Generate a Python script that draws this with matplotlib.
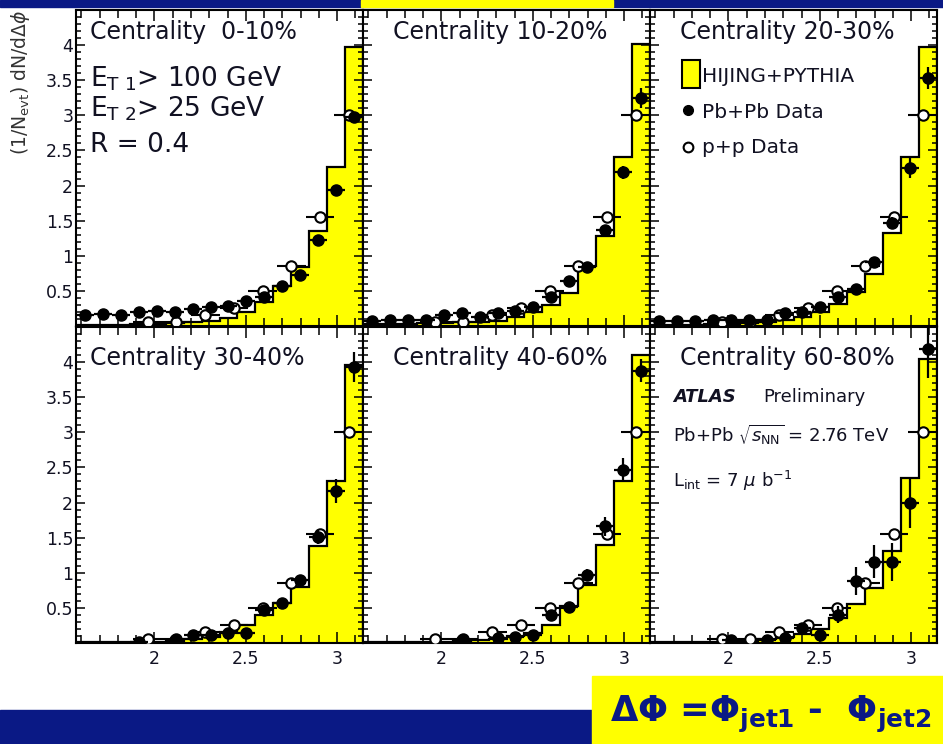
import numpy as np
import matplotlib
matplotlib.use('Agg')
import matplotlib.pyplot as plt
from matplotlib.patches import Rectangle
from matplotlib.ticker import MultipleLocator

plt.rcParams['font.family'] = ['DejaVu Sans']
plt.rcParams['mathtext.fontset'] = 'dejavusans'

NAVY = '#0a1985'
YELLOW = '#ffff00'
TXT = '#111122'
nan = np.nan

# --- dados ---
n_fino = 16      # bins de pi/32 (Pb+Pb e HIJING)
n_pp = 10        # bins de pi/20 (p+p)

centralidades = ['Centrality  0-10%', 'Centrality 10-20%', 'Centrality 20-30%',
                 'Centrality 30-40%', 'Centrality 40-60%', 'Centrality 60-80%']

hijing_0_10 = [0.02, 0.02, 0.02, 0.03, 0.03, 0.04, 0.05, 0.07, 0.12, 0.20, 0.34, 0.57, 0.84, 1.35, 2.26, 3.98]
hijing_10_20 = [0.03, 0.03, 0.03, 0.04, 0.04, 0.05, 0.06, 0.07, 0.13, 0.20, 0.30, 0.47, 0.85, 1.28, 2.40, 4.02]
hijing_20_30 = [0.02, 0.02, 0.02, 0.03, 0.03, 0.04, 0.05, 0.08, 0.13, 0.20, 0.32, 0.49, 0.74, 1.33, 2.41, 3.98]
hijing_30_40 = [0.01, 0.01, 0.01, 0.02, 0.02, 0.03, 0.05, 0.08, 0.15, 0.26, 0.40, 0.57, 0.80, 1.38, 2.30, 3.96]
hijing_40_60 = [0.01, 0.01, 0.01, 0.02, 0.02, 0.03, 0.04, 0.06, 0.10, 0.14, 0.26, 0.52, 0.83, 1.40, 2.30, 4.10]
hijing_60_80 = [0.01, 0.01, 0.01, 0.02, 0.02, 0.03, 0.05, 0.08, 0.13, 0.20, 0.35, 0.56, 0.79, 1.31, 2.35, 4.05]

pbpb_0_10 = [0.15, 0.17, 0.16, 0.20, 0.21, 0.20, 0.24, 0.27, 0.28, 0.36, 0.41, 0.57, 0.72, 1.23, 1.93, 2.97]
pbpb_10_20 = [0.07, 0.08, 0.08, 0.08, 0.15, 0.18, 0.13, 0.18, 0.22, 0.27, 0.41, 0.64, 0.84, 1.37, 2.19, 3.25]
pbpb_20_30 = [0.07, 0.07, 0.07, 0.08, 0.08, 0.09, 0.09, 0.18, 0.20, 0.27, 0.41, 0.53, 0.91, 1.47, 2.25, 3.53]
pbpb_30_40 = [nan, nan, nan, 0.02, nan, 0.04, 0.11, 0.11, 0.14, 0.14, 0.47, 0.57, 0.90, 1.51, 2.16, 3.93]
pbpb_40_60 = [nan, nan, nan, nan, nan, 0.04, nan, 0.07, 0.09, 0.11, 0.40, 0.51, 0.97, 1.66, 2.47, 3.88]
pbpb_60_80 = [nan, nan, nan, nan, 0.04, nan, 0.04, 0.07, 0.21, 0.11, 0.40, 0.88, 1.16, 1.16, 2.00, 4.18]

erro_0_10 = [0.02, 0.02, 0.02, 0.02, 0.02, 0.02, 0.02, 0.02, 0.02, 0.03, 0.03, 0.03, 0.04, 0.05, 0.06, 0.08]
erro_10_20 = [0.02, 0.02, 0.02, 0.02, 0.02, 0.02, 0.02, 0.02, 0.02, 0.03, 0.03, 0.04, 0.05, 0.06, 0.09, 0.14]
erro_20_30 = [0.02, 0.02, 0.02, 0.02, 0.02, 0.02, 0.02, 0.02, 0.02, 0.03, 0.03, 0.04, 0.05, 0.08, 0.14, 0.16]
erro_30_40 = [0.02, 0.02, 0.02, 0.02, 0.02, 0.02, 0.02, 0.02, 0.02, 0.03, 0.05, 0.05, 0.07, 0.10, 0.17, 0.21]
erro_40_60 = [0.02, 0.02, 0.02, 0.02, 0.02, 0.02, 0.02, 0.02, 0.02, 0.03, 0.05, 0.06, 0.08, 0.14, 0.17, 0.17]
erro_60_80 = [0.03, 0.03, 0.03, 0.03, 0.03, 0.03, 0.03, 0.03, 0.08, 0.08, 0.12, 0.20, 0.24, 0.27, 0.36, 0.40]

pp_dados = [nan, nan, 0.05, 0.06, 0.15, 0.25, 0.50, 0.85, 1.55, 3.00]
pp_erro = [0.01, 0.01, 0.02, 0.02, 0.02, 0.03, 0.03, 0.04, 0.05, 0.07]

y_ticks = [0.5, 1, 1.5, 2, 2.5, 3, 3.5, 4]
y_labels = ['0.5', '1', '1.5', '2', '2.5', '3', '3.5', '4']
x_ticks = [2, 2.5, 3]
x_labels = ['2', '2.5', '3']

hijing = [hijing_0_10, hijing_10_20, hijing_20_30, hijing_30_40, hijing_40_60, hijing_60_80]
pbpb = [pbpb_0_10, pbpb_10_20, pbpb_20_30, pbpb_30_40, pbpb_40_60, pbpb_60_80]
erros = [erro_0_10, erro_10_20, erro_20_30, erro_30_40, erro_40_60, erro_60_80]

bordas = np.linspace(np.pi / 2, np.pi, n_fino + 1)
centros = 0.5 * (bordas[1:] + bordas[:-1])
meia = 0.5 * (bordas[1] - bordas[0])
bordas_pp = np.linspace(np.pi / 2, np.pi, n_pp + 1)
centros_pp = 0.5 * (bordas_pp[1:] + bordas_pp[:-1])
meia_pp = 0.5 * (bordas_pp[1] - bordas_pp[0])

W, H = 943, 744
fig = plt.figure(figsize=(W / 100, H / 100), dpi=100)

# faixas do slide
fig.patches.append(Rectangle((0, 1 - 7 / H), 1, 7 / H, transform=fig.transFigure, color=NAVY, zorder=0))
fig.patches.append(Rectangle((361 / W, 1 - 7 / H), 252 / W, 7 / H, transform=fig.transFigure, color=YELLOW, zorder=1))
fig.patches.append(Rectangle((0, 0), 592 / W, 34 / H, transform=fig.transFigure, color=NAVY, zorder=0))
fig.patches.append(Rectangle((592 / W, 0), 1 - 592 / W, 68 / H, transform=fig.transFigure, color=YELLOW, zorder=1))
fig.text(610 / W, 1 - 722 / H, r'ΔΦ =Φ$_{\mathbf{jet1}}$ -  Φ$_{\mathbf{jet2}}$', fontsize=25.5,
         fontweight='bold', color=NAVY, va='baseline', ha='left')

x_esq = [76, 363, 650]
topos = [10, 327]
pw, ph = 287, 316

for k in range(6):
    lin, col = divmod(k, 3)
    ax = fig.add_axes([x_esq[col] / W, 1 - (topos[lin] + ph) / H, pw / W, ph / H])

    ax.stairs(hijing[k], bordas, fill=True, facecolor=YELLOW, edgecolor='none', zorder=1)
    ax.stairs(hijing[k], bordas, color='black', lw=1.6, zorder=2)
    ax.errorbar(centros_pp, pp_dados, xerr=meia_pp, yerr=pp_erro, fmt='o', ms=7.5, mfc='white',
                mec='black', mew=1.5, ecolor='black', elinewidth=1.5, capsize=0, zorder=3)
    ax.errorbar(centros, pbpb[k], xerr=meia, yerr=erros[k], fmt='o', ms=8, color='black',
                elinewidth=1.6, capsize=0, zorder=4)

    ax.set_xlim(np.pi / 2, np.pi)
    ax.set_ylim(0, 4.5)
    ax.set_xticks(x_ticks, labels=x_labels)
    ax.set_yticks(y_ticks, labels=y_labels)
    ax.xaxis.set_minor_locator(MultipleLocator(0.1))
    ax.yaxis.set_minor_locator(MultipleLocator(0.1))
    ax.tick_params(which='both', direction='in', top=True, right=True, width=1.1, colors='black',
                   labelsize=12.5, labelcolor=TXT)
    ax.tick_params(axis='x', which='major', length=8, pad=5)
    ax.tick_params(axis='x', which='minor', length=5.5)
    ax.tick_params(axis='y', which='major', length=6.5, pad=2)
    ax.tick_params(axis='y', which='minor', length=3.5)
    ax.tick_params(labelleft=(col == 0), labelbottom=(lin == 1))
    for s in ax.spines.values():
        s.set_linewidth(1.5)

    y_cent = 0.908 if lin == 0 else 0.880
    x_cent = 0.05 if col == 0 else 0.105
    ax.text(x_cent, y_cent, centralidades[k], transform=ax.transAxes, fontsize=17,
            color=TXT, va='baseline', ha='left')

    if k == 0:
        ax.text(0.05, 0.757, r'E$_{\mathrm{T\ 1}}$> 100 GeV', transform=ax.transAxes,
                fontsize=19, color=TXT, va='baseline')
        ax.text(0.05, 0.662, r'E$_{\mathrm{T\ 2}}$> 25 GeV', transform=ax.transAxes,
                fontsize=19, color=TXT, va='baseline')
        ax.text(0.05, 0.552, 'R = 0.4', transform=ax.transAxes, fontsize=19, color=TXT, va='baseline')
    if k == 2:
        ax.add_patch(Rectangle((0.111, 0.754), 0.063, 0.088, transform=ax.transAxes,
                               facecolor=YELLOW, edgecolor='black', lw=1.5, zorder=5))
        ax.plot([0.132], [0.685], 'o', transform=ax.transAxes, ms=7, color='black', clip_on=False)
        ax.plot([0.132], [0.568], 'o', transform=ax.transAxes, ms=7, mfc='white', mec='black',
                mew=1.5, clip_on=False)
        for yy, txt in zip([0.773, 0.659, 0.546], ['HIJING+PYTHIA', 'Pb+Pb Data', 'p+p Data']):
            ax.text(0.181, yy, txt, transform=ax.transAxes, fontsize=14.5, color=TXT, va='baseline')
    if k == 5:
        ax.text(0.08, 0.763, 'ATLAS', transform=ax.transAxes, fontsize=13, fontweight='bold',
                fontstyle='italic', color=TXT, va='baseline')
        ax.text(0.394, 0.763, 'Preliminary', transform=ax.transAxes, fontsize=13, color=TXT, va='baseline')
        ax.text(0.08, 0.636, r'Pb+Pb $\sqrt{s_{\mathrm{NN}}}$ = 2.76 TeV', transform=ax.transAxes,
                fontsize=13, color=TXT, va='baseline')
        ax.text(0.08, 0.494, r'L$_{\mathrm{int}}$ = 7 $\mu$ b$^{-1}$', transform=ax.transAxes,
                fontsize=13, color=TXT, va='baseline')

fig.text(21 / W, 1 - 10 / H, r'(1/N$_{\mathrm{evt}}$) dN/d$\Delta\phi$', rotation=90,
         va='top', ha='center', fontsize=13.5, color='#333333')

fig.savefig('out.png', dpi=100, facecolor='white')
